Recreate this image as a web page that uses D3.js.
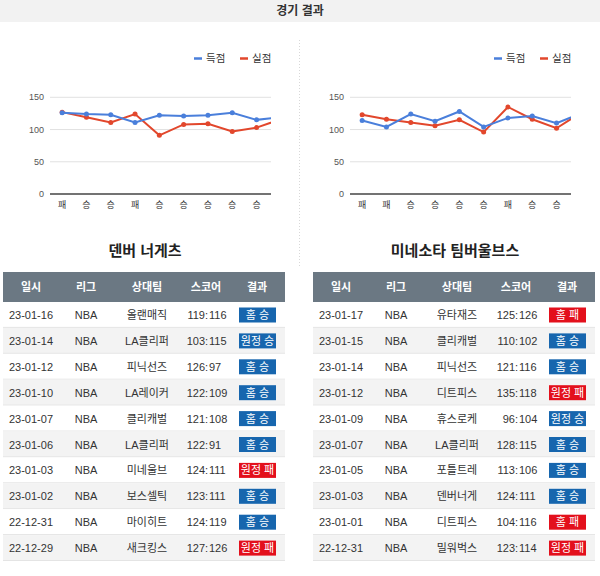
<!DOCTYPE html>
<html>
<head>
<meta charset="utf-8">
<script src="https://cdn.jsdelivr.net/npm/d3@7"></script>
<style>
  body { margin: 0; background: #fff; }
  svg { display: block; font-family: "Liberation Sans", Arial, "Noto Sans CJK KR", sans-serif; }
</style>
</head>
<body>
<svg id="canvas" width="600" height="576"></svg>
<script>
// chart data, oldest game first
var denResults = ['패', '승', '승', '패', '승', '승', '승', '승', '승', '승']
var denScored = [126, 124, 123, 111, 122, 121, 122, 126, 115, 119]
var denAllowed = [127, 119, 111, 124, 91, 108, 109, 97, 103, 116]

var minResults = ['패', '패', '승', '승', '승', '승', '패', '승', '승', '패']
var minScored = [114, 104, 124, 113, 128, 104, 118, 121, 110, 125]
var minAllowed = [123, 116, 111, 106, 115, 96, 135, 116, 102, 126]

var yTicks = [0, 50, 100, 150]

// tables, newest game first
var denDates = ['23-01-16', '23-01-14', '23-01-12', '23-01-10', '23-01-07', '23-01-06', '23-01-03', '23-01-02', '22-12-31', '22-12-29']
var denOpponents = ['올랜매직', 'LA클리퍼', '피닉선즈', 'LA레이커', '클리캐벌', 'LA클리퍼', '미네울브', '보스셀틱', '마이히트', '새크킹스']
var denHome = [119, 103, 126, 122, 121, 122, 124, 123, 124, 127]
var denAway = [116, 115, 97, 109, 108, 91, 111, 111, 119, 126]
var denOutcome = ['홈승', '원정승', '홈승', '홈승', '홈승', '홈승', '원정패', '홈승', '홈승', '원정패']

var minDates = ['23-01-17', '23-01-15', '23-01-14', '23-01-12', '23-01-09', '23-01-07', '23-01-05', '23-01-03', '23-01-01', '22-12-31']
var minOpponents = ['유타재즈', '클리캐벌', '피닉선즈', '디트피스', '휴스로케', 'LA클리퍼', '포틀트레', '덴버너게', '디트피스', '밀워벅스']
var minHome = [125, 110, 121, 135, 96, 128, 113, 124, 104, 123]
var minAway = [126, 102, 116, 118, 104, 115, 106, 111, 116, 114]
var minOutcome = ['홈패', '홈승', '홈승', '원정패', '원정승', '홈승', '홈승', '홈승', '홈패', '원정패']

var headers = ['일시', '리그', '상대팀', '스코어', '결과']

var svg = d3.select('#canvas')
var blue = '#4a7fdb'
var red = '#e2472c'

// title bar
svg.append('rect').attr('x', 0).attr('y', 0).attr('width', 600).attr('height', 22).attr('fill', '#f2f2f2')
svg.append('text').attr('x', 300).attr('y', 15).attr('text-anchor', 'middle')
  .attr('font-size', 12).attr('font-weight', 'bold').attr('fill', '#333').text('경기 결과')

// faint dotted separators
svg.append('line').attr('x1', 299.5).attr('x2', 299.5).attr('y1', 40).attr('y2', 267)
  .attr('stroke', '#d8d8d8').attr('stroke-dasharray', '1,2')

function drawChart (ox, results, scored, allowed, id) {
  var g = svg.append('g').attr('transform', 'translate(' + ox + ',0)')
  var x = d3.scalePoint().domain(d3.range(results.length)).range([50, 293]).padding(0.5)
  var y = d3.scaleLinear().domain([0, 150]).range([194, 97.3])

  g.selectAll('.grid').data(yTicks.filter(function (t) { return t > 0 })).enter()
    .append('line').attr('x1', 50).attr('x2', 271)
    .attr('y1', function (d) { return y(d) }).attr('y2', function (d) { return y(d) })
    .attr('stroke', '#e2e2e2')
  g.append('line').attr('x1', 50).attr('x2', 271).attr('y1', y(0)).attr('y2', y(0))
    .attr('stroke', '#444').attr('stroke-width', 1.3)

  g.selectAll('.ylab').data(yTicks).enter().append('text')
    .attr('x', 44).attr('y', function (d) { return y(d) + 3 })
    .attr('text-anchor', 'end').attr('font-size', 9).attr('fill', '#555')
    .text(function (d) { return d })

  g.selectAll('.xlab').data(results.slice(0, 9)).enter().append('text')
    .attr('x', function (d, i) { return x(i) }).attr('y', 208)
    .attr('text-anchor', 'middle').attr('font-size', 9).attr('fill', '#333')
    .text(function (d) { return d })

  svg.append('clipPath').attr('id', id).append('rect')
    .attr('x', ox + 50).attr('y', 60).attr('width', 221).attr('height', 140)
  var plot = svg.append('g').attr('clip-path', 'url(#' + id + ')')
    .append('g').attr('transform', 'translate(' + ox + ',0)')

  var line = d3.line().x(function (d, i) { return x(i) }).y(function (d) { return y(d) })
  ;[[allowed, red], [scored, blue]].forEach(function (s) {
    plot.append('path').datum(s[0]).attr('d', line)
      .attr('fill', 'none').attr('stroke', s[1]).attr('stroke-width', 2)
    plot.selectAll(null).data(s[0]).enter().append('circle')
      .attr('cx', function (d, i) { return x(i) }).attr('cy', function (d) { return y(d) })
      .attr('r', 2.5).attr('fill', s[1])
  })

  // legend
  var leg = [['득점', blue, 194], ['실점', red, 240]]
  leg.forEach(function (l) {
    g.append('line').attr('x1', l[2]).attr('x2', l[2] + 8).attr('y1', 58.5).attr('y2', 58.5)
      .attr('stroke', l[1]).attr('stroke-width', 2.5)
    g.append('text').attr('x', l[2] + 12).attr('y', 62).attr('font-size', 10.5)
      .attr('fill', '#333').text(l[0])
  })
}

drawChart(0, denResults, denScored, denAllowed, 'clipL')
drawChart(300, minResults, minScored, minAllowed, 'clipR')

function drawTable (tx, title, dates, opps, home, away, outcome) {
  var g = svg.append('g').attr('transform', 'translate(' + tx + ',0)')
  g.append('text').attr('x', 142).attr('y', 256).attr('text-anchor', 'middle')
    .attr('font-size', 15).attr('font-weight', 'bold').attr('fill', '#222').text(title)

  var colX = [28, 83, 144, 203, 254]
  var rowH = 25.9
  g.append('rect').attr('x', 0).attr('y', 272).attr('width', 282).attr('height', 30).attr('fill', '#6b7883')
  g.selectAll('.hd').data(headers).enter().append('text')
    .attr('x', function (d, i) { return colX[i] }).attr('y', 291)
    .attr('text-anchor', 'middle').attr('font-size', 11).attr('font-weight', 'bold')
    .attr('fill', '#fff').text(function (d) { return d })

  var rows = g.selectAll('.row').data(dates).enter().append('g')
    .attr('transform', function (d, i) { return 'translate(0,' + (302 + i * rowH) + ')' })
  rows.append('rect').attr('width', 282).attr('height', rowH)
    .attr('fill', function (d, i) { return i % 2 ? '#f3f3f3' : '#fff' })
  rows.append('line').attr('x1', 0).attr('x2', 282).attr('y1', rowH - 0.5).attr('y2', rowH - 0.5)
    .attr('stroke', '#e4e4e4')

  var txt = function (sel) {
    return sel.append('text').attr('y', 17).attr('font-size', 11).attr('fill', '#333')
  }
  txt(rows).attr('x', colX[0]).attr('text-anchor', 'middle').text(function (d) { return d })
  txt(rows).attr('x', colX[1]).attr('text-anchor', 'middle').text('NBA')
  txt(rows).attr('x', colX[2]).attr('text-anchor', 'middle').text(function (d, i) { return opps[i] })
  txt(rows).attr('x', colX[3] - 1).attr('text-anchor', 'end').text(function (d, i) { return home[i] })
  txt(rows).attr('x', colX[3] + 0.5).attr('text-anchor', 'middle').text(':')
  txt(rows).attr('x', colX[3] + 3).attr('text-anchor', 'start').text(function (d, i) { return away[i] })

  rows.append('rect').attr('x', 236).attr('y', 5.5).attr('width', 37).attr('height', 15)
    .attr('fill', function (d, i) { return outcome[i].indexOf('승') >= 0 ? '#1766ae' : '#e3101c' })
  rows.append('text').attr('x', 254.5).attr('y', 17).attr('text-anchor', 'middle')
    .attr('font-size', 11).attr('fill', '#fff')
    .text(function (d, i) { return outcome[i].length === 2 ? outcome[i][0] + ' ' + outcome[i][1] : outcome[i][0] + outcome[i][1] + ' ' + outcome[i][2] })
}

drawTable(3, '덴버 너게츠', denDates, denOpponents, denHome, denAway, denOutcome)
drawTable(313, '미네소타 팀버울브스', minDates, minOpponents, minHome, minAway, minOutcome)
</script>
</body>
</html>
